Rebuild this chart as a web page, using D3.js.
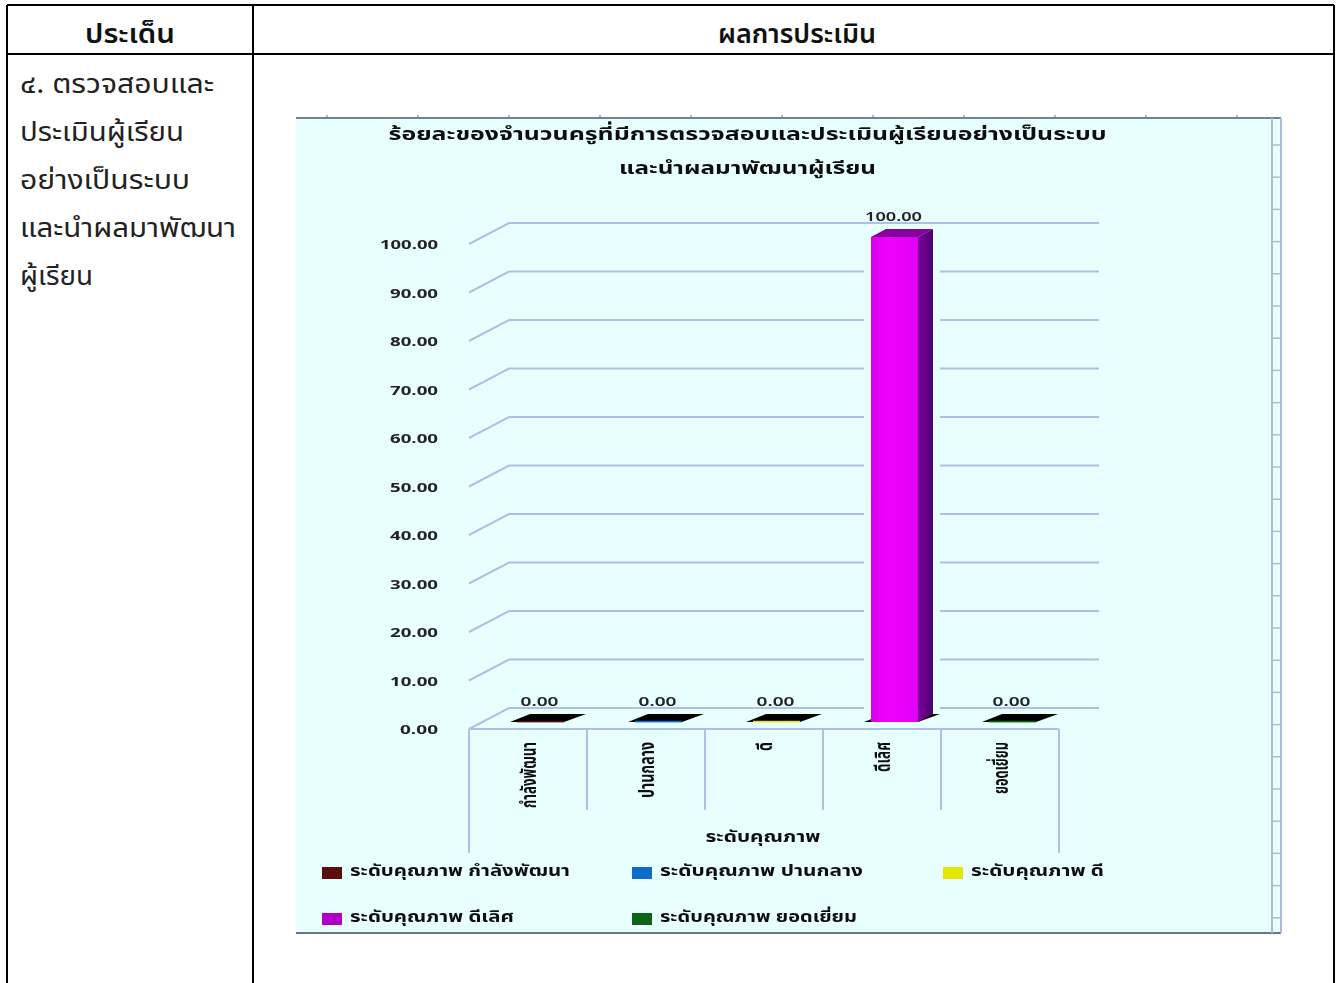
<!DOCTYPE html>
<html><head><meta charset="utf-8">
<script src="https://cdn.jsdelivr.net/npm/d3@7"></script>
<style>html,body{margin:0;padding:0;background:#fff;overflow:hidden}
svg{display:block}
text{font-family:"Noto Sans Thai","Noto Sans","DejaVu Sans","Liberation Sans",sans-serif}</style>
</head><body><div id="c"></div>
<script>
const categories = ["กำลังพัฒนา","ปานกลาง","ดี","ดีเลิศ","ยอดเยี่ยม"];
const values = [0,0,0,100,0];
const yTicks = [0,10,20,30,40,50,60,70,80,90,100];
const legendLabels = ["ระดับคุณภาพ กำลังพัฒนา","ระดับคุณภาพ ปานกลาง","ระดับคุณภาพ ดี","ระดับคุณภาพ ดีเลิศ","ระดับคุณภาพ ยอดเยี่ยม"];
const palette = ["#5a0a0a","#0a6cc8","#e2e800","#b000c8","#0a6414"];
const titleLines = ["ร้อยละของจำนวนครูที่มีการตรวจสอบและประเมินผู้เรียนอย่างเป็นระบบ","และนำผลมาพัฒนาผู้เรียน"];
const axisTitle = "ระดับคุณภาพ";
const tableHeads = ["ประเด็น","ผลการประเมิน"];
const cellLines = ["๔. ตรวจสอบและ","ประเมินผู้เรียน","อย่างเป็นระบบ","และนำผลมาพัฒนา","ผู้เรียน"];

const svg = d3.select("#c").append("svg").attr("width",1341).attr("height",983);
const defs = svg.append("defs");
defs.append("filter").attr("id","soft").append("feGaussianBlur").attr("stdDeviation",0.55);
const g1 = defs.append("linearGradient").attr("id","front");
g1.append("stop").attr("offset","0").attr("stop-color","#d800e8");
g1.append("stop").attr("offset","0.35").attr("stop-color","#f000ff");
g1.append("stop").attr("offset","1").attr("stop-color","#e000f4");
const g2 = defs.append("linearGradient").attr("id","side");
g2.append("stop").attr("offset","0").attr("stop-color","#7c00a0");
g2.append("stop").attr("offset","1").attr("stop-color","#4c0070");
const sx=(sel,len)=>sel.attr("textLength",len).attr("lengthAdjust","spacingAndGlyphs");

// Table
const tbl = svg.append("g").attr("stroke","#000").attr("stroke-width",2);
[[7,5,1334,5],[7,54,1334,54],[7,5,7,983],[253,5,253,983],[1334,5,1334,983]].forEach(l=>
  tbl.append("line").attr("x1",l[0]).attr("y1",l[1]).attr("x2",l[2]).attr("y2",l[3]));
const thX=[130,797], thW=[90,158];
svg.selectAll(".th").data(tableHeads).join("text").attr("x",(d,i)=>thX[i]).attr("y",43)
  .attr("text-anchor","middle").attr("font-size",27).attr("font-weight",600).attr("fill","#111").text(d=>d)
  .each(function(d,i){sx(d3.select(this),thW[i]);});
const clW=[194,164,170,216,73];
svg.selectAll(".cl").data(cellLines).join("text").attr("x",20).attr("y",(d,i)=>93+i*48)
  .attr("font-size",27).attr("fill","#222").text(d=>d)
  .each(function(d,i){sx(d3.select(this),clW[i]);});

// Chart panel
const ch = svg.append("g").attr("filter","url(#soft)");
const panel={l:296,t:118,r:1281,b:933};
ch.append("rect").attr("x",panel.l).attr("y",panel.t).attr("width",panel.r-panel.l).attr("height",panel.b-panel.t).attr("fill","#e8ffff");
ch.append("line").attr("x1",panel.l).attr("x2",panel.r).attr("y1",panel.t).attr("y2",panel.t).attr("stroke","#4a5a70").attr("stroke-width",1.5);
ch.append("line").attr("x1",panel.l).attr("x2",panel.r).attr("y1",panel.b).attr("y2",panel.b).attr("stroke","#667788").attr("stroke-width",2);
ch.selectAll(".tt").data(d3.range(327,1281,91)).join("line").attr("x1",d=>d).attr("x2",d=>d).attr("y1",panel.t-3).attr("y2",panel.t).attr("stroke","#667788");
// right strip
[1272,1281].forEach(x=>ch.append("line").attr("x1",x).attr("x2",x).attr("y1",panel.t).attr("y2",panel.b).attr("stroke","#aabbd8").attr("stroke-width",2));
ch.selectAll(".st").data(d3.range(145,933,32.2)).join("line").attr("x1",1272).attr("x2",1281).attr("y1",d=>d).attr("y2",d=>d).attr("stroke","#aabbd8").attr("stroke-width",1.5);

// Title
const tW=[718,257];
ch.selectAll(".ti").data(titleLines).join("text").attr("x",747.5).attr("y",(d,i)=>i?174:140)
  .attr("text-anchor","middle").attr("font-size",18).attr("font-weight",700).attr("fill","#111").text(d=>d)
  .each(function(d,i){sx(d3.select(this),tW[i]);});

// Scales
const y=d3.scaleLinear().domain([0,100]).range([729,244]);
const x=d3.scaleBand().domain(categories).range([469,1059]);
const dx=40, dy=-21, barW=47, barL=48, barLift=-7, sideX=15, sideY=-8;
const gridC="#b0c0e4";

// Gridlines + walls
ch.selectAll(".gr").data(yTicks).join("path").attr("fill","none").attr("stroke",gridC).attr("stroke-width",2)
  .attr("d",d=>`M${x.range()[0]},${y(d)}L${x.range()[0]+dx},${y(d)+dy}L${x.range()[1]+dx},${y(d)+dy}`);
ch.selectAll(".yl").data(yTicks).join("text").attr("x",438).attr("y",d=>y(d)+5).attr("text-anchor","end")
  .attr("font-size",12).attr("font-weight",700).attr("font-family","DejaVu Sans").attr("fill","#222")
  .text(d=>d.toFixed(2))
  .each(function(d){sx(d3.select(this),d===100?58:d===0?38:48);});

// Floor axis
ch.append("line").attr("x1",x.range()[0]).attr("x2",x.range()[1]).attr("y1",y(0)).attr("y2",y(0)).attr("stroke",gridC).attr("stroke-width",2);
const edges=categories.map(c=>x(c)).concat([x.range()[1]]);
ch.selectAll(".tk").data(edges).join("line").attr("x1",d=>d).attr("x2",d=>d).attr("y1",y(0))
  .attr("y2",(d,i)=>(i===0||i===categories.length)?853:810).attr("stroke",gridC).attr("stroke-width",2);

// Bars
const bars=ch.selectAll(".bar").data(categories.map((c,i)=>({c,v:values[i],i}))).join("g");
bars.each(function(d){
  const g=d3.select(this), l=x(d.c)+barL, r=l+barW, b=y(0)+barLift, t=y(d.v)+barLift;
  if(d.v>0){
    g.append("rect").attr("x",l-7).attr("y",t-4).attr("width",barW+sideX+14).attr("height",b-t+4).attr("fill","#e8ffff");
  }
  g.append("path").attr("fill","#000").attr("d",`M${l-7},${b}L${r},${b}L${r+sideX+7},${b+sideY}L${l+13},${b+sideY}Z`);
  if(d.v>0){
    g.append("path").attr("fill","url(#side)").attr("d",`M${r},${t}L${r+sideX},${t+sideY}L${r+sideX},${b+sideY}L${r},${b}Z`);
    g.append("path").attr("fill","#86009e").attr("d",`M${l},${t}L${l+sideX},${t+sideY}L${r+sideX},${t+sideY}L${r},${t}Z`);
    g.append("rect").attr("x",l).attr("y",t).attr("width",barW).attr("height",b-t).attr("fill","url(#front)");
  } else {
    g.append("rect").attr("x",l).attr("y",b-1.2).attr("width",barW).attr("height",1.6).attr("fill",palette[d.i]);
  }
  g.append("text").attr("x",l+barW/2-1).attr("y",t-16).attr("text-anchor","middle").attr("font-size",12).attr("font-weight",600)
   .attr("font-family","DejaVu Sans").attr("fill","#222").text(d.v.toFixed(2)).call(sx,d.v>=100?57:38);
});

// Category labels
const labelLen=[66,56,9,30,52];
ch.selectAll(".xl").data(categories).join("text")
  .attr("transform",(d,i)=>`translate(${x(d)+x.bandwidth()/2+8},742) rotate(-90)`)
  .attr("text-anchor","end").attr("font-size",21).attr("font-weight",700).attr("fill","#111").text(d=>d)
  .each(function(d,i){sx(d3.select(this),labelLen[i]);});

ch.append("text").attr("x",763).attr("y",842).attr("text-anchor","middle").attr("font-size",15).attr("font-weight",700).attr("fill","#111").text(axisTitle).call(sx,115);

// Legend
const legX=[322,632,943,322,632], legY=[872,872,872,918,918], legW=[220,203,133,164,197];
const leg=ch.selectAll(".lg").data(legendLabels).join("g").attr("transform",(d,i)=>`translate(${legX[i]},${legY[i]})`);
leg.append("rect").attr("x",0).attr("y",-5).attr("width",20).attr("height",12).attr("fill",(d,i)=>palette[i]);
leg.append("text").attr("x",28).attr("y",4).attr("font-size",15).attr("font-weight",700).attr("fill","#111").text(d=>d)
  .each(function(d,i){sx(d3.select(this),legW[i]);});
</script></body></html>
